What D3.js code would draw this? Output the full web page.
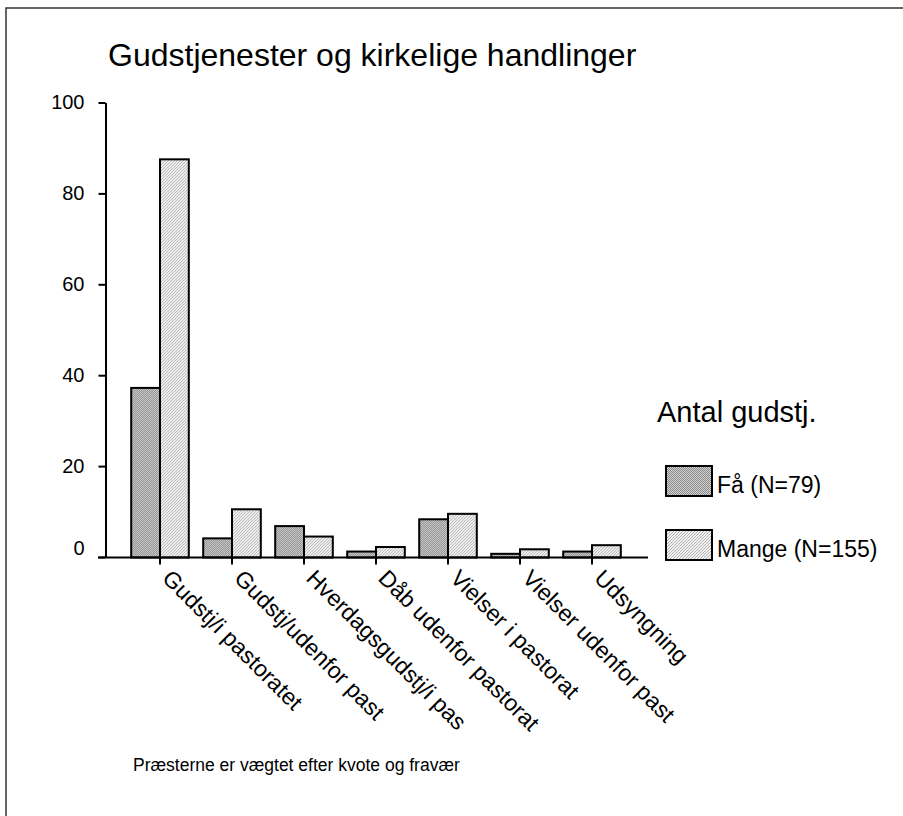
<!DOCTYPE html>
<html>
<head>
<meta charset="utf-8">
<script src="https://cdn.jsdelivr.net/npm/d3@7"></script>
<style>
  body { margin: 0; background: #fff; }
  text { font-family: "Liberation Sans", Arial, sans-serif; fill: #000; }
</style>
</head>
<body>
<div id="chart"></div>
<script>
// data
var categories = ["Gudstj/i pastoratet", "Gudstj/udenfor past", "Hverdagsgudstj/i pas",
  "Dåb udenfor pastorat", "Vielser i pastorat", "Vielser udenfor past", "Udsyngning"];
var seriesNames = ["Få (N=79)", "Mange (N=155)"];
var faa = [37.2, 4.1, 6.8, 1.2, 8.3, 0.7, 1.2];
var mange = [87.5, 10.5, 4.5, 2.2, 9.5, 1.7, 2.6];
var yTicks = [0, 20, 40, 60, 80, 100];

var svgWidth = 903;
var svgHeight = 816;

var svg = d3.select("#chart").append("svg")
  .attr("width", svgWidth)
  .attr("height", svgHeight);

// fill patterns
var defs = svg.append("defs");
var p1 = defs.append("pattern")
  .attr("id", "patFaa")
  .attr("width", 2).attr("height", 2)
  .attr("patternUnits", "userSpaceOnUse");
p1.append("rect").attr("width", 2).attr("height", 2).attr("fill", "#d4d4d4");
p1.append("rect").attr("x", 0).attr("y", 0).attr("width", 1).attr("height", 1).attr("fill", "#888");
p1.append("rect").attr("x", 1).attr("y", 1).attr("width", 1).attr("height", 1).attr("fill", "#888");

var p2 = defs.append("pattern")
  .attr("id", "patMange")
  .attr("width", 3).attr("height", 3)
  .attr("patternUnits", "userSpaceOnUse");
p2.append("rect").attr("width", 3).attr("height", 3).attr("fill", "#f2f2f2");
[[0, 2], [1, 1], [2, 0]].forEach(function(c) {
  p2.append("rect").attr("x", c[0]).attr("y", c[1]).attr("width", 1).attr("height", 1).attr("fill", "#b0b0b0");
});
var fills = ["url(#patFaa)", "url(#patMange)"];

// frame (only left/top visible)
svg.append("rect")
  .attr("x", 6).attr("y", 8)
  .attr("width", 1000).attr("height", 1000)
  .attr("fill", "none")
  .attr("stroke", "#333")
  .attr("stroke-width", 1.5);

// title
svg.append("text")
  .attr("x", 108).attr("y", 66)
  .style("font-size", "32px")
  .text("Gudstjenester og kirkelige handlinger");

// scales
var yScale = d3.scaleLinear().domain([0, 100]).range([557, 102.5]);
var x0 = d3.scaleBand().domain(categories).range([124, 628])
  .paddingInner(0.2).paddingOuter(0.1);
var x1 = d3.scaleBand().domain([0, 1]).range([0, x0.bandwidth()]);

var axisX = 105.5;
var baseY = 557.5;

// bars
var rows = categories.map(function(c, i) { return { cat: c, vals: [faa[i], mange[i]] }; });
var groups = svg.selectAll(".grp")
  .data(rows)
  .enter().append("g")
  .attr("class", "grp")
  .attr("transform", function(d) { return "translate(" + x0(d.cat) + ",0)"; });

groups.selectAll("rect")
  .data(function(d) { return d.vals.map(function(v, k) { return { k: k, v: v }; }); })
  .enter().append("rect")
  .attr("x", function(d) { return x1(d.k); })
  .attr("y", function(d) { return yScale(d.v); })
  .attr("width", x1.bandwidth())
  .attr("height", function(d) { return baseY - yScale(d.v); })
  .attr("fill", function(d) { return fills[d.k]; })
  .attr("stroke", "#000")
  .attr("stroke-width", 2);

// y axis
var yAxis = d3.axisLeft(yScale).tickValues(yTicks).tickSize(7).tickSizeOuter(0).tickPadding(14);
var gy = svg.append("g")
  .attr("transform", "translate(" + axisX + ",0)")
  .call(yAxis);
gy.select(".domain").attr("stroke-width", 2);
gy.selectAll(".tick line").attr("stroke-width", 2);
gy.selectAll(".tick text")
  .style("font-size", "20px")
  .style("font-family", "Liberation Sans, Arial, sans-serif")
  .attr("dy", function(d) { return d === 0 ? "-0.15em" : "0.32em"; });

// x axis
var xAxis = d3.axisBottom(x0).tickSize(7).tickSizeOuter(0).tickFormat("");
var gx = svg.append("g")
  .attr("transform", "translate(0," + baseY + ")")
  .call(xAxis);
gx.select(".domain").remove();
gx.selectAll(".tick line").attr("stroke-width", 2);
svg.append("line")
  .attr("x1", axisX - 7.5).attr("x2", 648)
  .attr("y1", baseY).attr("y2", baseY)
  .attr("stroke", "#000").attr("stroke-width", 2);

// rotated category labels
svg.selectAll(".xlab")
  .data(categories)
  .enter().append("text")
  .attr("class", "xlab")
  .attr("transform", function(d) {
    return "translate(" + (x0(d) + x0.bandwidth() / 2 + 1) + "," + (baseY + 22) + ") rotate(45)";
  })
  .style("font-size", "23px")
  .text(function(d) { return d; });

// legend
svg.append("text")
  .attr("x", 657).attr("y", 422)
  .style("font-size", "29px")
  .text("Antal gudstj.");

var legend = svg.selectAll(".leg")
  .data(seriesNames)
  .enter().append("g")
  .attr("class", "leg")
  .attr("transform", function(d, i) { return "translate(666," + (466 + i * 64) + ")"; });
legend.append("rect")
  .attr("width", 46).attr("height", 30)
  .attr("fill", function(d, i) { return fills[i]; })
  .attr("stroke", "#000").attr("stroke-width", 2);
legend.append("text")
  .attr("x", 51).attr("y", 27)
  .style("font-size", "23px")
  .text(function(d) { return d; });

// note
svg.append("text")
  .attr("x", 133).attr("y", 771)
  .style("font-size", "17.5px")
  .text("Præsterne er vægtet efter kvote og fravær");
</script>
</body>
</html>
